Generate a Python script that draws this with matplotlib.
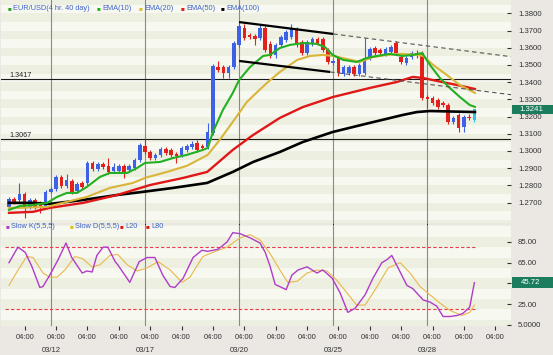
import matplotlib
matplotlib.use("Agg")
import matplotlib.pyplot as plt
import matplotlib.transforms as mtransforms
from matplotlib.patches import Rectangle
import numpy as np

plt.rcParams['font.family'] = ['Liberation Sans', 'DejaVu Sans']

# ---- EUR/USD 4 hr candles (index 0..89) ----
opens = [1.2674, 1.2720, 1.2715, 1.2749, 1.2674, 1.2715, 1.2697, 1.2680, 1.2761, 1.2778,
         1.2848, 1.2796, 1.2825, 1.2767, 1.2813, 1.2813, 1.2930, 1.2895, 1.2924, 1.2912,
         1.2883, 1.2883, 1.2912, 1.2889, 1.2901, 1.2947, 1.3029, 1.2994, 1.2959, 1.2976,
         1.3011, 1.3006, 1.2982, 1.2976, 1.3006, 1.3023, 1.3046, 1.3029, 1.3023, 1.3104,
         1.3488, 1.3488, 1.3453, 1.3488, 1.3616, 1.3715, 1.3674, 1.3668, 1.3656, 1.3715,
         1.3622, 1.3558, 1.3616, 1.3645, 1.3662, 1.3709, 1.3633, 1.3569, 1.3622, 1.3651,
         1.3651, 1.3587, 1.3512, 1.3541, 1.3448, 1.3453, 1.3488, 1.3448, 1.3453, 1.3541,
         1.3598, 1.3587, 1.3564, 1.3575, 1.3627, 1.3546, 1.3512, 1.3546, 1.3569, 1.3569,
         1.3313, 1.3307, 1.3296, 1.3278, 1.3267, 1.3168, 1.3209, 1.3139, 1.3197, 1.3180]
highs = [1.2732, 1.2732, 1.2813, 1.2761, 1.2726, 1.2726, 1.2709, 1.2773, 1.2790, 1.2860,
         1.2860, 1.2866, 1.2837, 1.2819, 1.2825, 1.2941, 1.2941, 1.2936, 1.2936, 1.2959,
         1.2930, 1.2924, 1.2924, 1.2924, 1.2959, 1.3046, 1.3070, 1.3006, 1.2988, 1.3023,
         1.3023, 1.3017, 1.2994, 1.3029, 1.3040, 1.3058, 1.3064, 1.3040, 1.3162, 1.3506,
         1.3523, 1.3500, 1.3500, 1.3639, 1.3749, 1.3738, 1.3686, 1.3680, 1.3738, 1.3726,
         1.3639, 1.3627, 1.3674, 1.3703, 1.3738, 1.3720, 1.3645, 1.3645, 1.3662, 1.3662,
         1.3662, 1.3598, 1.3535, 1.3552, 1.3500, 1.3500, 1.3500, 1.3512, 1.3656, 1.3604,
         1.3610, 1.3598, 1.3604, 1.3616, 1.3639, 1.3558, 1.3552, 1.3581, 1.3587, 1.3581,
         1.3325, 1.3319, 1.3307, 1.3290, 1.3278, 1.3203, 1.3220, 1.3209, 1.3215, 1.3244]
lows = [1.2662, 1.2691, 1.2703, 1.2610, 1.2662, 1.2662, 1.2639, 1.2668, 1.2755, 1.2767,
        1.2784, 1.2784, 1.2749, 1.2755, 1.2778, 1.2802, 1.2883, 1.2883, 1.2895, 1.2866,
        1.2872, 1.2872, 1.2843, 1.2878, 1.2889, 1.2936, 1.2982, 1.2947, 1.2947, 1.2965,
        1.2976, 1.2965, 1.2930, 1.2965, 1.2994, 1.3011, 1.2994, 1.3006, 1.3011, 1.3093,
        1.3459, 1.3424, 1.3424, 1.3476, 1.3604, 1.3645, 1.3651, 1.3616, 1.3645, 1.3575,
        1.3541, 1.3541, 1.3604, 1.3633, 1.3651, 1.3604, 1.3558, 1.3558, 1.3610, 1.3616,
        1.3575, 1.3506, 1.3500, 1.3436, 1.3436, 1.3442, 1.3436, 1.3436, 1.3442, 1.3529,
        1.3558, 1.3558, 1.3552, 1.3564, 1.3558, 1.3506, 1.3500, 1.3535, 1.3541, 1.3296,
        1.3249, 1.3267, 1.3244, 1.3255, 1.3157, 1.3157, 1.3110, 1.3110, 1.3180, 1.3168]
closes = [1.2720, 1.2703, 1.2749, 1.2674, 1.2715, 1.2674, 1.2680, 1.2761, 1.2778, 1.2848,
          1.2796, 1.2831, 1.2761, 1.2808, 1.2790, 1.2930, 1.2895, 1.2924, 1.2907, 1.2878,
          1.2907, 1.2912, 1.2878, 1.2912, 1.2947, 1.3034, 1.2994, 1.2959, 1.2976, 1.3011,
          1.2988, 1.2976, 1.2971, 1.3017, 1.3029, 1.3040, 1.3006, 1.3017, 1.3110, 1.3494,
          1.3471, 1.3453, 1.3488, 1.3627, 1.3726, 1.3656, 1.3662, 1.3651, 1.3715, 1.3587,
          1.3552, 1.3616, 1.3662, 1.3691, 1.3715, 1.3616, 1.3569, 1.3633, 1.3651, 1.3627,
          1.3587, 1.3517, 1.3523, 1.3453, 1.3488, 1.3488, 1.3448, 1.3500, 1.3541, 1.3593,
          1.3569, 1.3569, 1.3593, 1.3604, 1.3569, 1.3517, 1.3541, 1.3569, 1.3552, 1.3307,
          1.3301, 1.3278, 1.3255, 1.3267, 1.3168, 1.3191, 1.3133, 1.3197, 1.3191, 1.3241]

# ---- moving averages (x = candle index) ----
ema10_x = [0, 2.1, 4.6, 7.3, 9.2, 11.1, 13.0, 14.9, 17.4, 19.3, 22.6, 24.5, 26.0, 28.9, 31.4,
           34.0, 37.1, 38.0, 39.0, 40.9, 42.8, 44.0, 46.1, 48.6, 49.9, 51.8, 53.7, 56.2, 58.9,
           60.4, 61.9, 63.9, 66.5, 68.5, 70.4, 72.8, 75.3, 77.2, 79.0, 80.5, 82.4, 84.3, 86.2,
           88.1, 89.1]
ema10_y = [1.2657, 1.2680, 1.2686, 1.2698, 1.2733, 1.2756, 1.2756, 1.2791, 1.2849, 1.2872,
           1.2872, 1.2901, 1.2930, 1.2936, 1.2959, 1.2977, 1.3006, 1.3017, 1.3110, 1.3238,
           1.3337, 1.3412, 1.3488, 1.3552, 1.3558, 1.3598, 1.3616, 1.3627, 1.3622, 1.3604,
           1.3558, 1.3529, 1.3517, 1.3541, 1.3552, 1.3564, 1.3552, 1.3558, 1.3569, 1.3500,
           1.3424, 1.3366, 1.3314, 1.3267, 1.3256]
ema20_x = [0, 2.1, 7.3, 11.1, 14.9, 19.3, 23.7, 26.0, 30.2, 34.0, 38.0, 40.3, 42.8, 45.5,
           49.3, 51.8, 55.1, 57.6, 60.0, 61.9, 64.6, 67.1, 69.6, 72.3, 75.3, 78.0, 79.2, 81.1,
           83.7, 86.2, 89.1]
ema20_y = [1.2669, 1.2669, 1.2675, 1.2704, 1.2733, 1.2785, 1.2814, 1.2843, 1.2878, 1.2913,
           1.2977, 1.3064, 1.3169, 1.3285, 1.3395, 1.3459, 1.3529, 1.3552, 1.3558, 1.3552,
           1.3535, 1.3517, 1.3546, 1.3558, 1.3564, 1.3558, 1.3552, 1.3500, 1.3442, 1.3383,
           1.3337]
ema50_x = [0, 4.6, 7.8, 14.2, 20.7, 27.0, 33.3, 37.9, 42.8, 46.7, 51.8, 56.2, 61.9, 69.0,
           74.2, 77.2, 79.2, 81.8, 85.7, 89.1]
ema50_y = [1.2640, 1.2646, 1.2669, 1.2698, 1.2744, 1.2802, 1.2843, 1.2878, 1.3006, 1.3093,
           1.3192, 1.3255, 1.3313, 1.3366, 1.3401, 1.3430, 1.3424, 1.3407, 1.3383, 1.3360]
ema100_x = [0, 4.6, 7.8, 14.2, 20.7, 25.6, 31.4, 37.9, 42.8, 46.7, 51.8, 56.2, 61.9, 69.0,
            75.3, 78.0, 80.5, 89.1]
ema100_y = [1.2698, 1.2698, 1.2692, 1.2715, 1.2744, 1.2762, 1.2785, 1.2814, 1.2878, 1.2936,
            1.2994, 1.3052, 1.3110, 1.3163, 1.3209, 1.3226, 1.3232, 1.3226]

# ---- slow stochastic ----
slowk_x = [0.0, 1.7, 3.1, 4.4, 5.9, 6.5, 7.8, 9.4, 10.9, 12.0, 14.0, 14.9, 15.9, 16.8, 18.0,
           18.9, 20.3, 20.8, 23.1, 24.9, 26.4, 27.9, 29.4, 30.8, 31.7, 33.3, 35.2, 36.9, 38.0,
           40.0, 41.7, 42.8, 44.2, 46.1, 48.0, 49.0, 49.9, 50.9, 53.0, 54.1, 55.3, 57.0, 58.9,
           60.0, 61.8, 63.3, 64.8, 66.2, 68.1, 69.6, 71.3, 72.3, 73.2, 74.8, 76.1, 77.2, 79.2,
           80.5, 81.8, 83.0, 84.3, 85.7, 86.8, 88.1, 89.0]
slowk_y = [65, 80, 75, 61, 41, 42, 53, 68, 84, 70, 55, 57, 56, 72, 80,
           80, 66, 63, 46, 66, 70, 70, 53, 42, 41, 50, 70, 77, 76,
           78, 85, 94, 93, 89, 84, 75, 62, 44, 39, 53, 58, 61, 55,
           58, 50, 36, 17, 21, 34, 50, 65, 68, 72, 56, 43, 40, 29,
           27, 23, 13, 13, 14, 16, 22, 45.72]
slowd_x = [0.0, 1.5, 3.4, 4.6, 6.5, 7.8, 9.2, 10.7, 12.6, 14.0, 15.9, 17.4, 19.3, 20.8, 22.6,
           24.5, 26.4, 28.5, 30.8, 33.1, 34.6, 37.1, 39.0, 41.7, 44.2, 46.1, 48.0, 49.9, 51.8,
           53.3, 55.1, 57.0, 58.9, 60.8, 62.7, 64.6, 66.5, 68.1, 70.4, 72.5, 74.8, 76.7, 78.6,
           80.5, 82.4, 84.3, 86.6, 88.1, 89.0]
slowd_y = [43, 56, 71, 70, 55, 51, 51, 58, 71, 69, 61, 63, 72, 73, 63,
           57, 60, 66, 58, 46, 51, 71, 75, 80, 89, 92, 87, 74, 58,
           46, 47, 55, 58, 57, 48, 36, 24, 24, 42, 60, 65, 55, 42,
           34, 26, 19, 14, 17, 24]

# ---- axis labels / levels / trend lines ----
price_ticks = [1.27, 1.28, 1.29, 1.30, 1.31, 1.32, 1.33, 1.34, 1.35, 1.36, 1.37, 1.38]
stoch_ticks = [5, 25, 45, 65, 85]
stoch_tick_labels = ['5.0000', '25.00', '', '65.00', '85.00']  # 45 is hidden by the value box
time_ticks = list(range(3, 96, 6))
time_labels = ['04:00'] * len(time_ticks)
day_ticks = [8, 26, 44, 62, 80]
day_labels = ['03/12', '03/17', '03/20', '03/25', '03/28']
levels = [1.3417, 1.3067]
stoch_levels = [20, 80]
trend_solid = [([44, 62], [1.3749, 1.3680]), ([44, 61.4], [1.3523, 1.3459])]
trend_dashed = [([62, 96.5], [1.3680, 1.3546]), ([61.4, 96.5], [1.3459, 1.3325])]

# ---- styling ----
W, H = 553, 355
BG_FIG = '#ebe8e4'
BAND_A = '#f7f8f0'
BAND_B = '#edefe1'
UP, DOWN, LAST = '#3d62e6', '#e3201c', '#38c0e8'
TXT = '#3d63c6'


def px_rect(x0, y0, x1, y1):
    return [x0 / W, 1 - y1 / H, (x1 - x0) / W, (y1 - y0) / H]


fig = plt.figure(figsize=(W / 100, H / 100), dpi=100, facecolor=BG_FIG)
ax = fig.add_axes(px_rect(1, 0, 511, 223))
ax2 = fig.add_axes(px_rect(1, 225, 511, 326), sharex=ax)

xmin, xmax = -1.53, 96.0
ax.set_xlim(xmin, xmax)
ax.set_ylim(1.2581, 1.38773)
ax2.set_ylim(3.84, 101.4)

for a in (ax, ax2):
    a.set_facecolor(BAND_A)
    for s in a.spines.values():
        s.set_visible(False)

# background stripes
for k, lo in enumerate(np.arange(1.255, 1.39, 0.005)):
    if k % 2 == 0:
        ax.axhspan(lo, lo + 0.005, color=BAND_B, lw=0, zorder=0)
for k, lo in enumerate(range(0, 110, 10)):
    if k % 2 == 0:
        ax2.axhspan(lo, lo + 10, color=BAND_B, lw=0, zorder=0)

# day separators
for d in day_ticks:
    ax.axvline(d, color='#8a8a8a', lw=0.8, zorder=1)
    ax2.axvline(d, color='#8a8a8a', lw=0.8, zorder=1)

# support / resistance levels
for lv in levels:
    ax.axhline(lv, color='#1a1a1a', lw=0.8, zorder=1)
    ax.text(0.1, lv + 0.0003, f'{lv:.4f}', fontsize=5.2, color='#222222',
            va='bottom', ha='left', zorder=3)

# candles
idx = np.arange(len(closes))
o = np.array(opens)
c = np.array(closes)
cols = [UP if c[i] >= o[i] else DOWN for i in idx]
cols[-1] = LAST
ax.vlines(idx, lows, highs, colors=cols, lw=0.8, zorder=2)
ax.bar(idx, np.maximum(np.abs(c - o), 0.0003), bottom=np.minimum(o, c), width=0.68,
       color=cols, lw=0, zorder=2)

# moving averages
ax.plot(ema100_x, ema100_y, color='#000000', lw=1.9, zorder=3)
ax.plot(ema50_x, ema50_y, color='#e01818', lw=1.7, zorder=3)
ax.plot(ema20_x, ema20_y, color='#d9b53a', lw=1.5, zorder=3)
ax.plot(ema10_x, ema10_y, color='#22b022', lw=1.5, zorder=3)

# trend channel
for xs, ys in trend_solid:
    ax.plot(xs, ys, color='#000000', lw=1.6, zorder=4, solid_capstyle='butt')
for xs, ys in trend_dashed:
    ax.plot(xs, ys, color='#555555', lw=0.8, dashes=(4, 3), zorder=4)

# stochastic panel
for lv in stoch_levels:
    ax2.plot([-0.8, 89.5], [lv, lv], color='#ec3a4c', lw=0.8, dashes=(3, 2), zorder=2)
ax2.plot(slowd_x, slowd_y, color='#e8b84a', lw=0.8, zorder=3)
ax2.plot(slowk_x, slowk_y, color='#b03cc8', lw=1.0, zorder=3)

# ticks
ax.yaxis.tick_right()
ax.set_yticks(price_ticks)
ax.set_yticklabels([f'{t:.4f}' for t in price_ticks])
ax.tick_params(axis='y', direction='in', length=3, width=0.8, pad=5, labelsize=5.6,
               colors='#333333')
ax.tick_params(axis='x', bottom=False, labelbottom=False)

ax2.yaxis.tick_right()
ax2.set_yticks(stoch_ticks)
ax2.set_yticklabels(stoch_tick_labels)
ax2.tick_params(axis='y', direction='in', length=3, width=0.8, pad=5, labelsize=5.6,
                colors='#333333')
ax2.set_xticks(time_ticks)
ax2.set_xticklabels(time_labels)
ax2.set_xticks(day_ticks, minor=True)
ax2.set_xticklabels(day_labels, minor=True)
ax2.tick_params(axis='x', which='major', direction='out', length=3, width=0.8, pad=3,
                labelsize=5.5, colors='#333333')
ax2.tick_params(axis='x', which='minor', length=0, pad=15, labelsize=5.5,
                colors='#333333')


# last value boxes on the right scale
def value_box(a, val, half, label):
    tr = mtransforms.blended_transform_factory(fig.transFigure, a.transData)
    fig.add_artist(Rectangle((512 / W, val - half), 1 - 512 / W, 2 * half, transform=tr,
                             facecolor='#1b7c5e', edgecolor='none', zorder=5))
    fig.text(531 / W, val, label, transform=tr, fontsize=5.6, color='white',
             ha='center', va='center', zorder=6)


value_box(ax, closes[-1], 0.0026, f'{closes[-1]:.4f}')
value_box(ax2, slowk_y[-1], 5.0, f'{slowk_y[-1]:.2f}')


# legends
def legend_item(xp, yp, color, label):
    fig.text(xp / W, 1 - yp / H, '\u25a0', color=color, fontsize=4.5, va='center', ha='left')
    fig.text((xp + 5) / W, 1 - yp / H, label, color=TXT, fontsize=5.3, va='center', ha='left')


legend_item(8, 9, '#2aa02a', 'EUR/USD(4 hr. 40 day)')
legend_item(97, 9, '#22b022', 'EMA(10)')
legend_item(139, 9, '#d9c020', 'EMA(20)')
legend_item(181, 9, '#e01818', 'EMA(50)')
legend_item(221, 9, '#000000', 'EMA(100)')

legend_item(6, 227, '#b03cc8', 'Slow K(5,5,5)')
legend_item(70, 227, '#d9c020', 'Slow D(5,5,5)')
legend_item(120, 227, '#e01818', 'L20')
legend_item(146, 227, '#e01818', 'L80')

fig.savefig('out.png', dpi=100, facecolor=BG_FIG)
